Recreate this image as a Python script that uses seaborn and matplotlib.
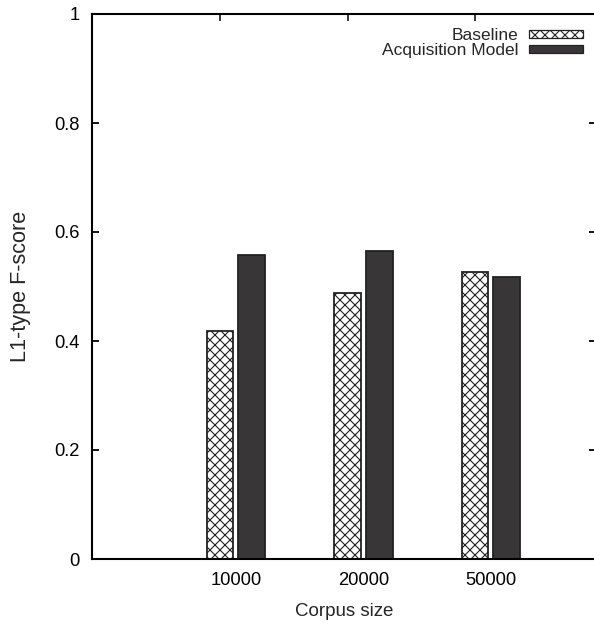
import matplotlib
matplotlib.use("Agg")
import matplotlib.pyplot as plt
import seaborn as sns
import pandas as pd
from matplotlib.patches import Patch

corpus_sizes = ["10000", "20000", "50000"]
baseline_scores = [0.419, 0.488, 0.527]
acquisition_scores = [0.557, 0.566, 0.517]
series_names = ["Baseline", "Acquisition Model"]
y_ticks = [0, 0.2, 0.4, 0.6, 0.8, 1]
y_tick_labels = ["0", "0.2", "0.4", "0.6", "0.8", "1"]

df = pd.DataFrame({
    "Corpus size": corpus_sizes * 2,
    "score": baseline_scores + acquisition_scores,
    "model": [series_names[0]] * 3 + [series_names[1]] * 3,
})

DPI = 120
S = 100 / DPI          # scale for point sizes (so they look as at 100 dpi)
def px(p):             # pixels -> points at this dpi
    return p * 72 / DPI

sns.set_style("white")
plt.rcParams["font.family"] = ["Liberation Sans", "DejaVu Sans"]
plt.rcParams["hatch.linewidth"] = 0.8 * S

W, H = 594, 639
fig = plt.figure(figsize=(W / DPI, H / DPI), dpi=DPI)
ax = fig.add_axes([92 / W, 80 / H, (595.5 - 92) / W, (559 - 14) / H])

dark = "#3a3538"
sns.barplot(data=df, x="Corpus size", y="score", hue="model",
            palette=["white", dark], width=0.5, gap=0.16,
            edgecolor="#222222", linewidth=1.3 * S, ax=ax, legend=False)
for p in ax.containers[0]:
    p.set_hatch("xxxx")

ax.set_xlim(-1.129, 2.82)
ax.set_ylim(0, 1)
ax.set_yticks(y_ticks)
ax.set_yticklabels(y_tick_labels)
ax.tick_params(axis="y", direction="in", length=px(7), width=1.3 * S, pad=px(12),
               labelsize=13.2 * S, right=True, left=True, colors="black")
ax.tick_params(axis="x", length=0, pad=px(13), labelsize=13.2 * S, colors="black")
ax.set_xlabel("Corpus size", fontsize=13.5 * S, labelpad=px(14))
ax.set_ylabel("L1-type F-score", fontsize=15.6 * S, labelpad=px(24))

for s in ax.spines.values():
    s.set_color("black")
    s.set_linewidth(1.5 * S)

sec = ax.secondary_xaxis("top")
sec.set_xticks([i - 0.125 for i in range(len(corpus_sizes))])
sec.set_xticklabels([])
sec.tick_params(direction="in", length=px(7), width=1.3 * S)
sec.spines["top"].set_visible(False)

handles = [Patch(facecolor="white", edgecolor="#222222", hatch="xxxx", linewidth=0.9 * S),
           Patch(facecolor=dark, edgecolor="#222222", linewidth=0.9 * S)]
leg_fs = 12.5 * S
ax.legend(handles, series_names, loc="upper right",
          bbox_to_anchor=((583 - 92) / 503.5, 0.974),
          frameon=False, markerfirst=False,
          prop={"size": leg_fs},
          handlelength=3.1, handleheight=0.35, handletextpad=0.63,
          labelspacing=0.0, borderaxespad=0, borderpad=0)

fig.savefig("out.png", dpi=DPI)
